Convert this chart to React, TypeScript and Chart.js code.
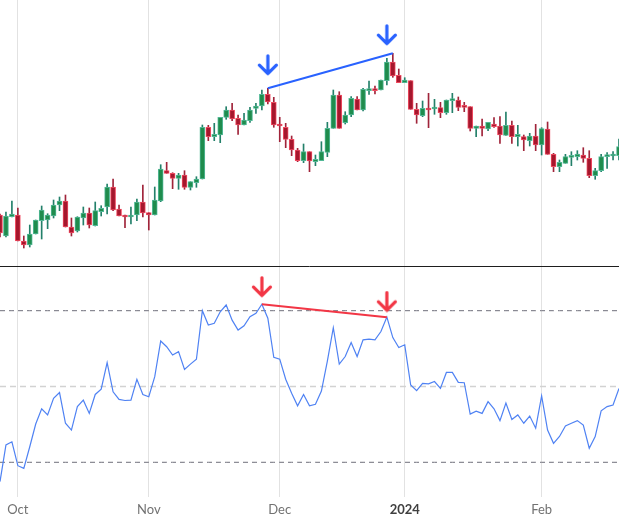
import React, { useEffect, useRef } from 'react';
import { Chart, registerables } from 'chart.js';

Chart.register(...registerables);

// ---- categories (trading weekdays) ----
const firstDate = '2023-09-27';
const candleCount = 105;
const tickDates = ['2023-10-02', '2023-11-01', '2023-12-01', '2024-01-01', '2024-02-01'];
const tickLabels = ['Oct', 'Nov', 'Dec', '2024', 'Feb'];

// ---- price series (arbitrary price units) ----
const open = [85,64,83.3,85,59,55,66,79.3,80,84,95,99,73,69,82,87,74.3,88.3,93,113,91,84.7,83,85,98,87.3,85,99,129.3,126.7,121.7,125,112.7,117.3,121,172.7,163.3,165,182.7,190,181.7,175,179.3,191.7,194,205.7,197.7,175.7,172.7,160.7,150,139.3,148.3,138.3,139.3,147.7,171.7,205,177.3,185,201,190,209.3,211.3,210,219.3,238,224.7,217.3,219.3,190.7,184.3,191.7,191,192.3,187.3,199.3,200,194.3,193.3,171.7,174,171,176,174,164.7,174.7,163.3,163.3,159.3,164,155,171,145.7,133.3,136.7,142.7,143.3,145,141.7,124.3,129.3,143.3,144,144.3];
const close = [67,84,86,59,55,66,80,90,85,95,99,73,67,83,87,75,89.3,91.7,113,90,84,83,84,98,87,85,100,131,126.7,121.7,125,112.7,118.3,121,172.7,163.3,165.7,182.7,190,181,175,180,190,194,205.7,198,175,174,160.7,150,139.3,148.3,139,140.7,148.3,171.7,205,171.7,185,201.7,190,210.7,211,209.3,220,238,224,217.3,220,190.7,185,191.7,190,192.3,187.3,200,200.7,192.7,192.7,171.7,174,171.7,177.7,173.3,165,174.7,163.3,165.7,160,164,155,171.3,145.7,133.3,137.7,143.3,144.3,146,141.7,124.3,129.3,143.3,145,145.7,153.3];
const high = [86,88,99,92,64,75,80,94,86.3,100,103,105,82,83.3,93,92,98,94.3,116,121,95,85,93,101,115,87.3,113,135.3,137.7,127.3,126.7,129.3,118.3,123.3,175,174.7,176.7,182.7,193.3,196.7,185,186.7,192.7,196.7,210,211.7,202.7,182.7,176.7,164,151.7,156,148.3,145,158.3,177.7,210,208.3,188.3,203.3,203.3,211.7,219,214,220,241.7,246.7,231,222.3,219.3,196.7,199,206.7,200.7,197.7,200,206.7,203,197.7,193.3,174,181,177.7,182.3,183.3,188,179,174.7,165,166.7,175.7,172.3,178,146.7,140,145.7,148.3,149.3,152.3,149.3,131.7,145.7,147.3,148.3,161];
const low = [63,63,83,59,52,53,66,61,71.3,82,89.3,73,64,68,75,72,74,84,86,89.3,84,72.3,76,79.3,83,70,85,98.3,126.7,111.3,110.7,110.7,110,112.7,121,159.3,159.3,157.3,180.7,179.3,165.7,175,177.7,186.7,190,196,172.7,158.3,152.3,144.3,138.3,137.3,128.3,134.3,139.3,143.3,171.7,171.7,176,183.3,190,189,205.7,206,210,215,222.7,217.3,217.3,190.7,176.7,183.3,172.3,185.7,182.3,185.7,187.3,189.3,188.3,169,163.3,164,169.3,172.7,156.7,164.7,156.7,154,149.3,154,149.3,145,145.7,128.3,128.3,136.7,134.3,140,137.7,122.3,120.7,128.3,131.7,140,140];

// ---- RSI ----
const rsi = [24.9,34.6,35.4,29.1,28.4,34.1,40.1,44.1,42.5,46.9,48.4,40.3,38.5,44.7,46.4,42.9,47.9,49.3,56.3,48.6,46.6,46.3,46.4,51.9,47.9,47.3,52.6,62.0,60.5,58.3,59.2,54.5,55.9,57.2,70.0,66.2,66.7,69.7,71.5,67.5,64.9,66.0,68.4,69.3,71.7,68.0,57.7,57.2,51.9,48.2,44.9,47.9,44.9,45.3,48.8,56.7,65.5,55.9,57.9,61.6,57.9,62.3,62.5,62.3,64.5,68.3,62.9,60.3,61.0,50.4,48.9,50.8,50.7,51.3,49.5,53.7,53.7,51.1,51.0,42.7,43.5,42.9,46.0,44.1,41.0,45.6,41.3,42.5,40.3,42.2,39.0,47.5,38.5,35.0,36.8,39.6,40.3,41.0,39.8,33.7,36.8,43.6,44.7,45.1,49.5];
const rsiLevels = [70, 50, 30];

// ---- divergence annotations ----
const priceDivIdx = [45, 66];
const priceDivVal = [211.7, 246.7];
const priceArrowIdx = [45, 65];
const priceArrowVal = [235, 265];
const rsiDivIdx = [44, 65];
const rsiDivVal = [71.7, 68.3];
const rsiArrowIdx = [44, 65];
const rsiArrowVal = [76.3, 72.4];

// axis ranges (price panel on top, RSI panel below, sharing one chart area)
const priceMin = -197, priceMax = 300, panelSplit = 34;
const rsiMin = 20.84, rsiMax = 151.98;

function weekdayLabels(start: string, count: number): string[] {
  const out: string[] = [];
  const d = new Date(start + 'T00:00:00Z');
  while (out.length < count) {
    const w = d.getUTCDay();
    if (w !== 0 && w !== 6) out.push(d.toISOString().slice(0, 10));
    d.setUTCDate(d.getUTCDate() + 1);
  }
  return out;
}

const labels = weekdayLabels(firstDate, candleCount);

function makeArrow(color: string): HTMLCanvasElement {
  const c = document.createElement('canvas');
  c.width = 22; c.height = 22;
  const g = c.getContext('2d')!;
  g.strokeStyle = color;
  g.lineWidth = 3.2;
  g.lineCap = 'round';
  g.lineJoin = 'round';
  g.beginPath();
  g.moveTo(11, 1.8); g.lineTo(11, 19.5);
  g.moveTo(2.5, 11.2); g.lineTo(11, 19.7); g.lineTo(19.5, 11.2);
  g.stroke();
  return c;
}

const sparse = (idx: number[], vals: number[]) =>
  labels.map((_, i) => { const k = idx.indexOf(i); return k >= 0 ? vals[k] : null; });

const tickText = (i: number): string | null => {
  const k = tickDates.indexOf(labels[i]);
  return k >= 0 ? tickLabels[k] : null;
};

const separatorPlugin = {
  id: 'panelSeparator',
  beforeDatasetsDraw(chart: any) {
    const { ctx, chartArea } = chart;
    const y = Math.round(chart.scales.y.getPixelForValue(panelSplit)) + 0.5;
    ctx.save();
    ctx.strokeStyle = '#1e1e1e';
    ctx.lineWidth = 1;
    ctx.beginPath();
    ctx.moveTo(chartArea.left, y);
    ctx.lineTo(chartArea.right, y);
    ctx.stroke();
    ctx.restore();
  },
};

export default function App() {
  const ref = useRef<HTMLCanvasElement>(null);
  useEffect(() => {
    document.body.style.margin = '0';
    const canvas = ref.current!;
    const up = close.map((c, i) => c >= open[i]);
    const blueArrow = makeArrow('#2962ff');
    const redArrow = makeArrow('#f23645');

    const chart = new Chart(canvas, {
      type: 'bar',
      data: {
        labels,
        datasets: [
          {
            type: 'bar',
            data: labels.map((_, i) => [low[i], high[i]]),
            backgroundColor: up.map((u) => (u ? '#23806a' : '#a0243a')),
            barThickness: 1,
            grouped: false,
            yAxisID: 'y',
            order: 5,
          } as any,
          {
            type: 'bar',
            data: labels.map((_, i) => [open[i], close[i]]),
            backgroundColor: up.map((u) => (u ? '#1f8c4d' : '#a5172d')),
            borderColor: up.map((u) => (u ? '#52b896' : '#ef4a60')),
            borderWidth: 1,
            borderSkipped: false,
            barThickness: 5,
            minBarLength: 2,
            grouped: false,
            yAxisID: 'y',
            order: 4,
          } as any,
          {
            type: 'line',
            data: sparse(priceDivIdx, priceDivVal),
            borderColor: '#2962ff',
            borderWidth: 2,
            pointRadius: 0,
            spanGaps: true,
            yAxisID: 'y',
            order: 1,
          } as any,
          {
            type: 'line',
            data: sparse(priceArrowIdx, priceArrowVal),
            showLine: false,
            pointStyle: blueArrow,
            pointRadius: 11,
            yAxisID: 'y',
            order: 0,
          } as any,
          ...rsiLevels.map((lv, k) => ({
            type: 'line',
            data: labels.map(() => lv),
            borderColor: k === 1 ? '#d2d2d2' : '#6e6e7a',
            borderWidth: k === 1 ? 1.5 : 1,
            borderDash: k === 1 ? [6, 4] : [5, 4],
            pointRadius: 0,
            yAxisID: 'y2',
            order: 3,
          })) as any,
          {
            type: 'line',
            data: rsi,
            borderColor: '#4f82f3',
            borderWidth: 1.2,
            pointRadius: 0,
            tension: 0,
            yAxisID: 'y2',
            order: 2,
          } as any,
          {
            type: 'line',
            data: sparse(rsiDivIdx, rsiDivVal),
            borderColor: '#f23645',
            borderWidth: 2,
            pointRadius: 0,
            spanGaps: true,
            yAxisID: 'y2',
            order: 1,
          } as any,
          {
            type: 'line',
            data: sparse(rsiArrowIdx, rsiArrowVal),
            showLine: false,
            pointStyle: redArrow,
            pointRadius: 11,
            yAxisID: 'y2',
            order: 0,
          } as any,
        ],
      },
      options: {
        responsive: false,
        animation: false,
        devicePixelRatio: 1,
        layout: { autoPadding: false, padding: { left: 0, right: 0, top: 0, bottom: 0 } },
        plugins: { legend: { display: false }, tooltip: { enabled: false } },
        scales: {
          x: {
            type: 'category',
            offset: false,
            grid: {
              offset: false,
              drawTicks: false,
              lineWidth: 1,
              color: (ctx: any) => (tickText(ctx.index) ? '#e2e2e2' : 'rgba(0,0,0,0)'),
            },
            border: { display: false },
            ticks: {
              autoSkip: false,
              maxRotation: 0,
              minRotation: 0,
              padding: 0,
              callback: (_v: any, i: number) => tickText(i) ?? '',
              color: (ctx: any) => (tickText(ctx.index) === '2024' ? '#404040' : '#727272'),
              font: (ctx: any) => ({
                family: 'Lato',
                size: 13,
                lineHeight: 2,
                weight: tickText(ctx.index) === '2024' ? 'bold' : 'normal',
              }),
            },
          },
          y: { display: false, min: priceMin, max: priceMax },
          y2: { display: false, min: rsiMin, max: rsiMax },
        },
      } as any,
      plugins: [separatorPlugin],
    });
    return () => chart.destroy();
  }, []);

  return (
    <div style={{ width: 619, height: 523 }}>
      <canvas ref={ref} width={619} height={523} />
    </div>
  );
}
